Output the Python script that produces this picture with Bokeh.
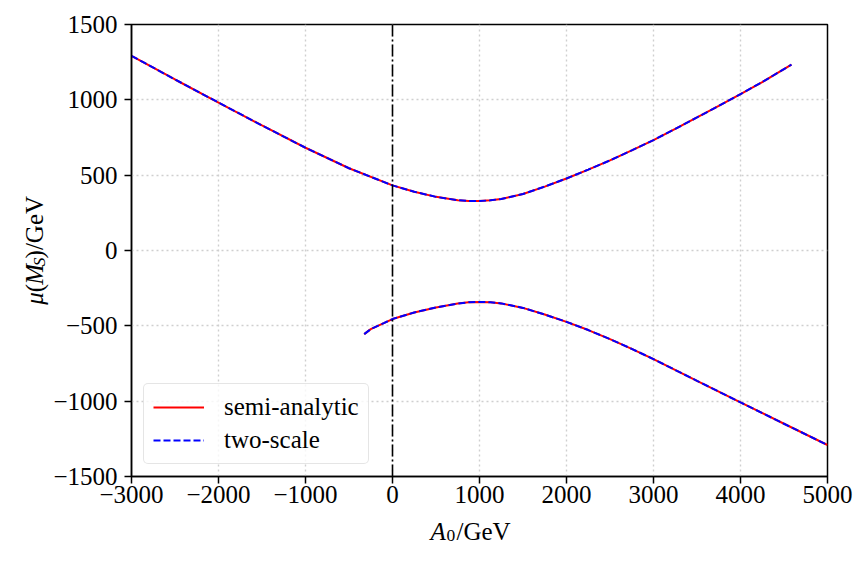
import math
from bokeh.plotting import figure
from bokeh.layouts import row, column
from bokeh.models import FixedTicker, Span, Label, Legend, LegendItem, Range1d
from bokeh.embed import file_html
from bokeh.resources import INLINE

# ---- data ----
upper_x = [-3000, -2500, -2000, -1500, -1000, -500, 0, 250, 500, 750, 875, 1000,
           1125, 1250, 1500, 1750, 2000, 2250, 2500, 2750, 3000, 3250, 3500,
           3750, 4000, 4250, 4586]
upper_y = [1292, 1135, 982, 830, 682, 546, 432, 390, 356, 334, 329, 328,
           333, 342, 375, 424, 478, 537, 598, 664, 733, 807, 883,
           960, 1038, 1118, 1234]

lower_x = [-325, -250, -100, 0, 250, 500, 750, 875, 1000, 1125, 1250, 1500,
           1750, 2000, 2250, 2500, 2750, 3000, 3500, 4000, 4500, 5000]
lower_y = [-555, -522, -482, -455, -411, -378, -352, -344, -341, -344, -351, -381,
           -425, -474, -528, -588, -653, -721, -865, -1008, -1150, -1291]

# two-scale solution coincides with the semi-analytic one
two_upper_x, two_upper_y = list(upper_x), list(upper_y)
two_lower_x, two_lower_y = list(lower_x), list(lower_y)

x_ticks = [-3000, -2000, -1000, 0, 1000, 2000, 3000, 4000, 5000]
y_ticks = [-1500, -1000, -500, 0, 500, 1000, 1500]

FONT = "Liberation Serif"
FS = "25px"
SUB = "17.5px"

W, H = 868, 562
YLW = 50            # width of the strip holding the y-axis title
MH = 513            # height of the main figure
XLH = H - MH        # height of the strip holding the x-axis title
MW = W - YLW


def lab(v):
    return ("\u2212" + str(-v)) if v < 0 else str(v)


p = figure(width=MW, height=MH,
           x_range=Range1d(-3000, 5000), y_range=Range1d(-1500, 1500),
           output_backend="svg", toolbar_location=None,
           min_border_left=130 - YLW, min_border_right=41,
           min_border_top=24, min_border_bottom=MH - 476)
p.background_fill_color = "white"
p.border_fill_color = "white"
p.outline_line_color = "black"
p.outline_line_width = 1.5

p.xaxis.ticker = FixedTicker(ticks=x_ticks)
p.yaxis.ticker = FixedTicker(ticks=y_ticks)
p.xaxis.major_label_overrides = {t: lab(t) for t in x_ticks}
p.yaxis.major_label_overrides = {t: lab(t) for t in y_ticks}
for ax in (p.xaxis, p.yaxis):
    ax.major_label_text_font = FONT
    ax.major_label_text_font_size = FS
    ax.major_label_text_color = "black"
    ax.axis_line_color = "black"
    ax.axis_line_width = 1.5
    ax.major_tick_line_color = "black"
    ax.major_tick_line_width = 1.5
    ax.major_tick_out = 7
    ax.major_tick_in = 0
    ax.minor_tick_line_color = None
p.xaxis.major_label_standoff = 2
p.yaxis.major_label_standoff = 7

for g in (p.xgrid, p.ygrid):
    g.grid_line_color = "#cfcfcf"
    g.grid_line_dash = "2 3"
    g.grid_line_width = 1.4

r1 = p.line(upper_x, upper_y, line_color="red", line_width=2)
p.line(lower_x, lower_y, line_color="red", line_width=2)
r2 = p.line(two_upper_x, two_upper_y, line_color="blue", line_width=2, line_dash="7 3")
p.line(two_lower_x, two_lower_y, line_color="blue", line_width=2, line_dash="7 3")

p.add_layout(Span(location=0, dimension="height", line_color="black",
                  line_width=1.6, line_dash="12 3 2 3"))

legend = Legend(items=[LegendItem(label="semi-analytic", renderers=[r1]),
                       LegendItem(label="two-scale", renderers=[r2])],
                location="bottom_left", margin=12,
                label_text_font=FONT, label_text_font_size=FS,
                label_text_color="black",
                glyph_width=51, glyph_height=28, label_standoff=20,
                padding=9, spacing=5,
                border_line_color="#cccccc", border_line_width=1.5,
                border_radius=5, background_fill_alpha=0.8)
p.add_layout(legend)


def strip(w, h):
    f = figure(width=w, height=h, x_range=Range1d(0, w), y_range=Range1d(0, h),
               x_axis_type=None, y_axis_type=None, title=None,
               output_backend="svg", toolbar_location=None, min_border=0)
    f.outline_line_color = None
    f.background_fill_color = "white"
    f.border_fill_color = "white"
    return f


def piece(f, h, cx, cy, text, style="normal", size=FS, angle=0.0):
    # cx, cy: pixel position inside strip f (y measured from its top)
    f.add_layout(Label(x=cx, y=h - cy, text=text,
                       text_font=FONT, text_font_style=style, text_font_size=size,
                       text_color="black", angle=angle, text_align="left",
                       text_baseline="alphabetic"))


# y-axis title: mu(M_S)/GeV, reading upwards
ylab = strip(YLW, MH)
a = math.pi / 2
piece(ylab, MH, 34, 318, "\u03bc", "italic", angle=a)
piece(ylab, MH, 34, 304, "(", angle=a)
piece(ylab, MH, 34, 295.5, "M", "italic", angle=a)
piece(ylab, MH, 38, 274.5, "S", "italic", SUB, angle=a)
piece(ylab, MH, 34, 265.5, ")/GeV", angle=a)

# x-axis title: A_0/GeV
xlab = strip(W, XLH)
piece(xlab, XLH, 430, 531 - MH, "A", "italic")
piece(xlab, XLH, 446, 535 - MH, "0", "normal", SUB)
piece(xlab, XLH, 456, 531 - MH, "/GeV")

layout = column(row(ylab, p), xlab)
open("out.html", "w").write(file_html(layout, INLINE))
